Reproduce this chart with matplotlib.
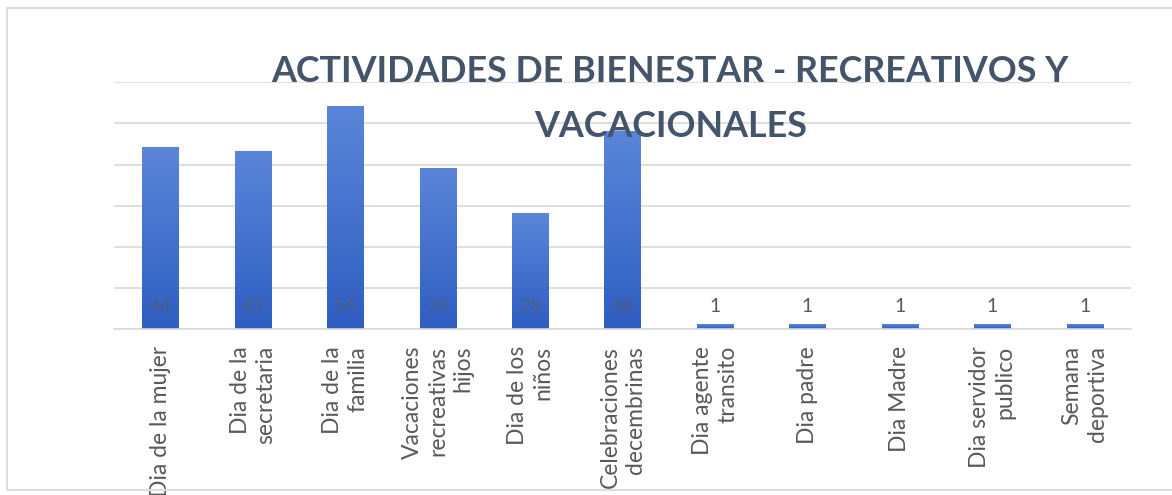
import numpy as np
import matplotlib.pyplot as plt
from matplotlib.colors import LinearSegmentedColormap
from matplotlib.patches import Rectangle

plt.rcParams['font.family'] = ['Lato', 'DejaVu Sans']

categorias = ['Dia de la mujer', 'Dia de la\nsecretaria', 'Dia de la\nfamilia',
              'Vacaciones\nrecreativas\nhijos', 'Dia de los\nniños',
              'Celebraciones\ndecembrinas', 'Dia agente\ntransito', 'Dia padre',
              'Dia Madre', 'Dia servidor\npublico', 'Semana\ndeportiva']
valores = [44, 43, 54, 39, 28, 48, 1, 1, 1, 1, 1]
titulo = 'ACTIVIDADES DE BIENESTAR - RECREATIVOS Y\nVACACIONALES'

fig = plt.figure(figsize=(11.72, 4.95), dpi=100)
fig.patches.append(Rectangle((0.006, 0.01), 1.1, 0.974, transform=fig.transFigure,
                             fill=False, edgecolor='#DCDCDC', lw=1.5))
ax = fig.add_axes([0.0973, 0.335, 0.8677, 0.499])

x = np.arange(len(categorias))
bars = ax.bar(x, valores, width=0.39, color='none', zorder=2)

# gradiente tipo Excel en cada barra
cmap = LinearSegmentedColormap.from_list('azul', ['#2F5EC2', '#5A85D8'])
grad = np.linspace(0, 1, 256).reshape(-1, 1)
for b in bars:
    ax.imshow(grad, cmap=cmap, aspect='auto', origin='lower', zorder=2,
              extent=(b.get_x(), b.get_x() + b.get_width(), 0, b.get_height()))

for xi, v in zip(x, valores):
    ax.text(xi, 5.5, str(v), ha='center', va='center', fontsize=14,
            color='#595959', alpha=0.6 if v > 5 else 1, zorder=3)

ax.set_xlim(-0.5, len(categorias) - 0.5)
ax.set_ylim(0, 60)
ax.set_yticks(np.arange(0, 61, 10))
ax.yaxis.grid(True, color='#D9D9D9', lw=1.2)
ax.set_axisbelow(True)
ax.tick_params(axis='y', left=False, labelleft=False)
ax.tick_params(axis='x', length=0, pad=12)
ax.set_xticks(x)
ax.set_xticklabels(categorias, rotation=90, fontsize=16.5, color='#595959',
                   multialignment='right', linespacing=1.25)
for s in ['top', 'right', 'left']:
    ax.spines[s].set_visible(False)
ax.spines['bottom'].set_color('#D9D9D9')
ax.spines['bottom'].set_linewidth(1.2)

fig.text(0.572, 0.8, titulo, ha='center', va='center', fontsize=25.8,
         fontweight='bold', color='#44546A', linespacing=1.8, zorder=5)

plt.savefig('out.png', dpi=100)
